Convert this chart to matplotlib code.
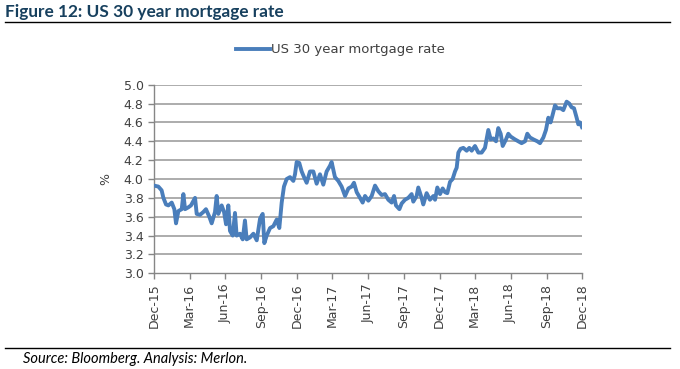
import numpy as np
import pandas as pd
import matplotlib
matplotlib.use("Agg")
import matplotlib.pyplot as plt

# months elapsed since Dec-15 and the rate (%)
months = [0, 0.36, 0.64, 0.79, 1.01, 1.21, 1.49, 1.71, 1.85, 2.05, 2.33, 2.47, 2.61,
          2.89, 3.11, 3.45, 3.59, 3.87, 4.15, 4.37, 4.65, 4.85, 5.13, 5.27, 5.41,
          5.69, 5.89, 6.06, 6.25, 6.39, 6.62, 6.81, 6.95, 7.23, 7.46, 7.65, 7.79,
          8.07, 8.36, 8.64, 8.92, 9.14, 9.28, 9.48, 9.76, 10.04, 10.32, 10.54,
          10.74, 10.93, 11.16, 11.44, 11.72, 11.86, 12.00, 12.22, 12.42, 12.62,
          12.84, 13.12, 13.40, 13.68, 13.96, 14.24, 14.52, 14.80, 14.94, 15.22,
          15.50, 15.78, 16.07, 16.35, 16.63, 16.82, 17.05, 17.33, 17.55, 17.75,
          18.03, 18.31, 18.59, 18.87, 19.15, 19.43, 19.71, 19.99, 20.19, 20.35,
          20.64, 20.83, 21.11, 21.39, 21.67, 21.81, 22.09, 22.23, 22.51, 22.65,
          22.93, 23.21, 23.50, 23.64, 23.83, 24.06, 24.28, 24.48, 24.67, 24.90,
          25.12, 25.32, 25.46, 25.60, 25.79, 26.02, 26.30, 26.52, 26.72, 27.00,
          27.28, 27.56, 27.84, 28.12, 28.32, 28.54, 28.77, 28.96, 29.16, 29.33,
          29.61, 29.80, 30.00, 30.36, 30.64, 30.92, 31.21, 31.40, 31.63, 31.91,
          32.24, 32.47, 32.75, 32.97, 33.17, 33.36, 33.53, 33.73, 33.92, 34.21,
          34.43, 34.71, 34.93, 35.13, 35.33, 35.55, 35.69, 35.83, 36.00]
rate = [3.93, 3.92, 3.88, 3.80, 3.73, 3.72, 3.75, 3.68, 3.53, 3.66, 3.68, 3.84, 3.68,
        3.70, 3.72, 3.80, 3.63, 3.62, 3.65, 3.68, 3.60, 3.53, 3.65, 3.82, 3.63,
        3.72, 3.65, 3.52, 3.72, 3.45, 3.40, 3.64, 3.40, 3.42, 3.36, 3.56, 3.36,
        3.38, 3.42, 3.35, 3.58, 3.63, 3.32, 3.40, 3.48, 3.50, 3.57, 3.48,
        3.75, 3.92, 4.00, 4.02, 3.98, 4.05, 4.18, 4.17, 4.08, 4.02,
        3.96, 4.08, 4.08, 3.95, 4.05, 3.94, 4.08, 4.14, 4.18, 4.02,
        3.98, 3.92, 3.82, 3.90, 3.92, 3.96, 3.86, 3.80, 3.75, 3.82,
        3.77, 3.82, 3.93, 3.87, 3.83, 3.84, 3.78, 3.75, 3.82, 3.72,
        3.68, 3.74, 3.78, 3.80, 3.84, 3.76, 3.82, 3.91, 3.80, 3.73,
        3.85, 3.78, 3.82, 3.78, 3.91, 3.84, 3.90, 3.86, 3.85, 3.97,
        4.00, 4.08, 4.12, 4.28, 4.32, 4.33, 4.30, 4.33, 4.30, 4.35,
        4.28, 4.28, 4.33, 4.52, 4.42, 4.43, 4.40, 4.54, 4.48, 4.35,
        4.42, 4.48, 4.45, 4.42, 4.40, 4.38, 4.40, 4.48, 4.44, 4.42,
        4.40, 4.38, 4.44, 4.52, 4.65, 4.60, 4.68, 4.78, 4.75, 4.75,
        4.73, 4.82, 4.80, 4.76, 4.75, 4.65, 4.58, 4.60, 4.55]

start = pd.Timestamp("2015-12-01")
dates = [start + pd.Timedelta(days=m * 30.4375) for m in months]
tick_dates = pd.date_range("2015-12-01", "2018-12-01", freq="3MS")
y_ticks = np.arange(3.0, 5.01, 0.2)

fig = plt.figure(figsize=(6.8, 3.69), dpi=100)
ax = fig.add_axes([0.2265, 0.2593, 0.6295, 0.5112])

for y in y_ticks[1:]:
    ax.axhline(y, color="#a6a6a6", lw=1.3, zorder=1)
ax.plot(dates, rate, color="#4a7ebb", lw=2.8, label="US 30 year mortgage rate",
        solid_joinstyle="round", zorder=3)

ax.set_ylim(3.0, 5.0)
ax.set_xlim(tick_dates[0], tick_dates[-1])
ax.set_yticks(y_ticks)
ax.set_yticklabels([f"{v:.1f}" for v in y_ticks])
ax.set_xticks(tick_dates)
ax.set_xticklabels([d.strftime("%b-%y") for d in tick_dates], rotation=90)
ax.tick_params(axis="both", colors="#868686", labelcolor="#404040",
               labelsize=9, length=4, width=1)
ax.set_ylabel("%", fontsize=9, color="#404040", labelpad=8)

for side in ["top", "right"]:
    ax.spines[side].set_visible(False)
for side in ["left", "bottom"]:
    ax.spines[side].set_color("#868686")
    ax.spines[side].set_linewidth(1)

leg = fig.legend(loc="center", bbox_to_anchor=(0.5, 1 - 50 / 369), frameon=False,
                 fontsize=9.5, handlelength=2.6, handletextpad=0.05)
for t in leg.get_texts():
    t.set_color("#404040")

fig.text(5 / 680, 1 - 12 / 369, "Figure 12: US 30 year mortgage rate",
         fontsize=12.4, fontweight="bold", color="#17405e", va="center",
         family="Lato")
fig.add_artist(plt.Line2D([5 / 680, 670 / 680], [1 - 22 / 369, 1 - 22 / 369],
                          color="black", lw=1))
fig.add_artist(plt.Line2D([5 / 680, 670 / 680], [1 - 348 / 369, 1 - 348 / 369],
                          color="black", lw=1))
fig.text(23 / 680, 1 - 359 / 369, "Source: Bloomberg. Analysis: Merlon.",
         fontsize=10.5, style="italic", color="black", va="center", family="Lato")

fig.savefig("out.png", dpi=100)
